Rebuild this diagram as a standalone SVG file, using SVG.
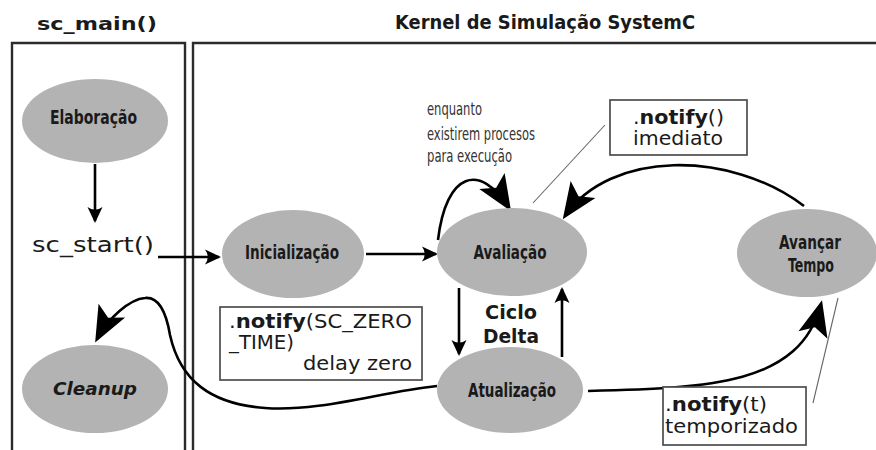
<svg xmlns="http://www.w3.org/2000/svg" width="876" height="450" viewBox="0 0 876 450">
  <style>
    .frame { fill: none; stroke: #2b2b2b; stroke-width: 2.4; }
    .title { font-family: "DejaVu Sans", "Liberation Sans", sans-serif; font-weight: bold; font-size: 18px; fill: #1a1a1a; text-anchor: middle; }
    .state { fill: #b3b3b3; }
    .lbl { font-family: "DejaVu Sans Condensed", "DejaVu Sans", sans-serif; font-stretch: condensed; font-weight: bold; font-size: 20px; fill: #1a1a1a; text-anchor: middle; }
    .ital { font-family: "DejaVu Sans", sans-serif; font-stretch: normal; font-style: italic; font-size: 18px; }
    .note { font-family: "DejaVu Sans Condensed", "DejaVu Sans", sans-serif; font-stretch: condensed; font-size: 17.5px; fill: #333; }
    .mono { font-family: "DejaVu Sans", "Liberation Sans", sans-serif; font-size: 19.5px; fill: #1a1a1a; }
    .b { font-weight: bold; }
    .box { fill: #fff; stroke: #4d4d4d; stroke-width: 1.7; }
    .lead { stroke: #666; stroke-width: 1.1; fill: none; }
    .edge { fill: none; stroke: #000; stroke-width: 2.6; }
    .small { marker-end: url(#tip); }
    .big { marker-end: url(#bigtip); }
  </style>
  <defs>
    <marker id="tip" markerUnits="userSpaceOnUse" markerWidth="24" markerHeight="20" viewBox="-16 -10 20 20" refX="0" refY="0" orient="auto" overflow="visible">
      <path d="M2,0 L-14,-7.5 Q-8.5,0 -14,7.5 Z" fill="#000"/>
    </marker>
    <marker id="bigtip" markerUnits="userSpaceOnUse" markerWidth="44" markerHeight="34" viewBox="-36 -17 44 34" refX="0" refY="0" orient="auto" overflow="visible">
      <path d="M4,0 L-32,-15 L-24,0 L-32,15 Z" fill="#000"/>
    </marker>
  </defs>

  <!-- swimlane frames and headings -->
  <g id="lanes">
    <path class="frame" d="M12,452 V43 H185 V452"/>
    <path class="frame" d="M193,452 V43 H878"/>
    <text class="title" x="97" y="30" textLength="120" lengthAdjust="spacingAndGlyphs">sc_main()</text>
    <text class="title" x="545" y="29" style="font-size:19px" textLength="300" lengthAdjust="spacingAndGlyphs">Kernel de Simulação SystemC</text>
  </g>

  <!-- connectors -->
  <g id="connectors">
    <path class="edge small" d="M95,164 L95,221"/>
    <path class="edge small" d="M158,257 L219,257"/>
    <path class="edge small" d="M366,254 L436,254"/>
    <path class="edge small" d="M459,288 L459,354"/>
    <path class="edge small" d="M562,357 L562,289"/>
    <!-- self loop on Avaliação -->
    <path class="edge big" d="M438,240 C446,172 480,162 509,208"/>
    <!-- Avançar Tempo back to Avaliação -->
    <path class="edge big" d="M804,206 C730,150 610,150 565,216"/>
    <!-- Atualização to Avançar Tempo -->
    <path class="edge big" d="M588,391 C710,388 800,385 821,304"/>
    <!-- Atualização to Cleanup -->
    <path class="edge big" d="M437,386 C380,392 320,412 265,408 C210,404 180,380 170,335 C165,305 155,297 145,298 C130,299 108,318 97,339"/>
    <!-- note leaders -->
    <path class="lead" d="M605,125 L533,203"/>
    <path class="lead" d="M813,403 L838,298"/>
  </g>

  <g id="elaboracao">
    <ellipse class="state" cx="95" cy="121" rx="73" ry="42"/>
    <text class="lbl" x="93.5" y="124" textLength="87" lengthAdjust="spacingAndGlyphs">Elaboração</text>
  </g>

  <g id="sc_start">
    <text class="mono" x="32" y="252" style="font-size:21px" textLength="122" lengthAdjust="spacingAndGlyphs">sc_start()</text>
  </g>

  <g id="cleanup">
    <ellipse class="state" cx="95" cy="389" rx="73" ry="44"/>
    <text class="lbl ital" x="95" y="395" textLength="84" lengthAdjust="spacingAndGlyphs">Cleanup</text>
  </g>

  <g id="inicializacao">
    <ellipse class="state" cx="293" cy="254" rx="71" ry="44"/>
    <text class="lbl" x="292" y="259" textLength="94" lengthAdjust="spacingAndGlyphs">Inicialização</text>
  </g>

  <g id="avaliacao">
    <ellipse class="state" cx="512" cy="252" rx="75" ry="44"/>
    <text class="lbl" x="510" y="259" textLength="73" lengthAdjust="spacingAndGlyphs">Avaliação</text>
  </g>

  <g id="atualizacao">
    <ellipse class="state" cx="510" cy="390" rx="73" ry="43"/>
    <text class="lbl" x="512" y="397" textLength="88" lengthAdjust="spacingAndGlyphs">Atualização</text>
  </g>

  <g id="avancar_tempo">
    <ellipse class="state" cx="807" cy="253" rx="70" ry="44"/>
    <text class="lbl" x="810" y="249" textLength="62" lengthAdjust="spacingAndGlyphs">Avançar</text>
    <text class="lbl" x="811" y="272" textLength="46" lengthAdjust="spacingAndGlyphs">Tempo</text>
  </g>

  <g id="ciclo_delta">
    <text class="title" x="511" y="319" style="font-size:19.5px" textLength="52" lengthAdjust="spacingAndGlyphs">Ciclo</text>
    <text class="title" x="511" y="343" style="font-size:19.5px" textLength="56" lengthAdjust="spacingAndGlyphs">Delta</text>
  </g>

  <g id="loop_note">
    <text class="note" x="427" y="115" textLength="55" lengthAdjust="spacingAndGlyphs">enquanto</text>
    <text class="note" x="427" y="140" textLength="108" lengthAdjust="spacingAndGlyphs">existirem procesos</text>
    <text class="note" x="427" y="162" textLength="85" lengthAdjust="spacingAndGlyphs">para execução</text>
  </g>

  <g id="notify_imediato">
    <rect class="box" x="610" y="100" width="137" height="55"/>
    <text class="mono" x="633" y="124" textLength="91" lengthAdjust="spacingAndGlyphs">.<tspan class="b">notify</tspan>()</text>
    <text class="mono" x="633" y="145" textLength="90" lengthAdjust="spacingAndGlyphs">imediato</text>
  </g>

  <g id="notify_zero">
    <rect class="box" x="220" y="307" width="202" height="73"/>
    <text class="mono" x="229" y="328" textLength="183" lengthAdjust="spacingAndGlyphs">.<tspan class="b">notify</tspan>(SC_ZERO</text>
    <text class="mono" x="229" y="349" textLength="65" lengthAdjust="spacingAndGlyphs">_TIME)</text>
    <text class="mono" x="303" y="370" textLength="109" lengthAdjust="spacingAndGlyphs">delay zero</text>
  </g>

  <g id="notify_temporizado">
    <rect class="box" x="663" y="387" width="143" height="58"/>
    <text class="mono" x="665" y="411" textLength="102" lengthAdjust="spacingAndGlyphs">.<tspan class="b">notify</tspan>(t)</text>
    <text class="mono" x="665" y="433" textLength="133" lengthAdjust="spacingAndGlyphs">temporizado</text>
  </g>
</svg>
